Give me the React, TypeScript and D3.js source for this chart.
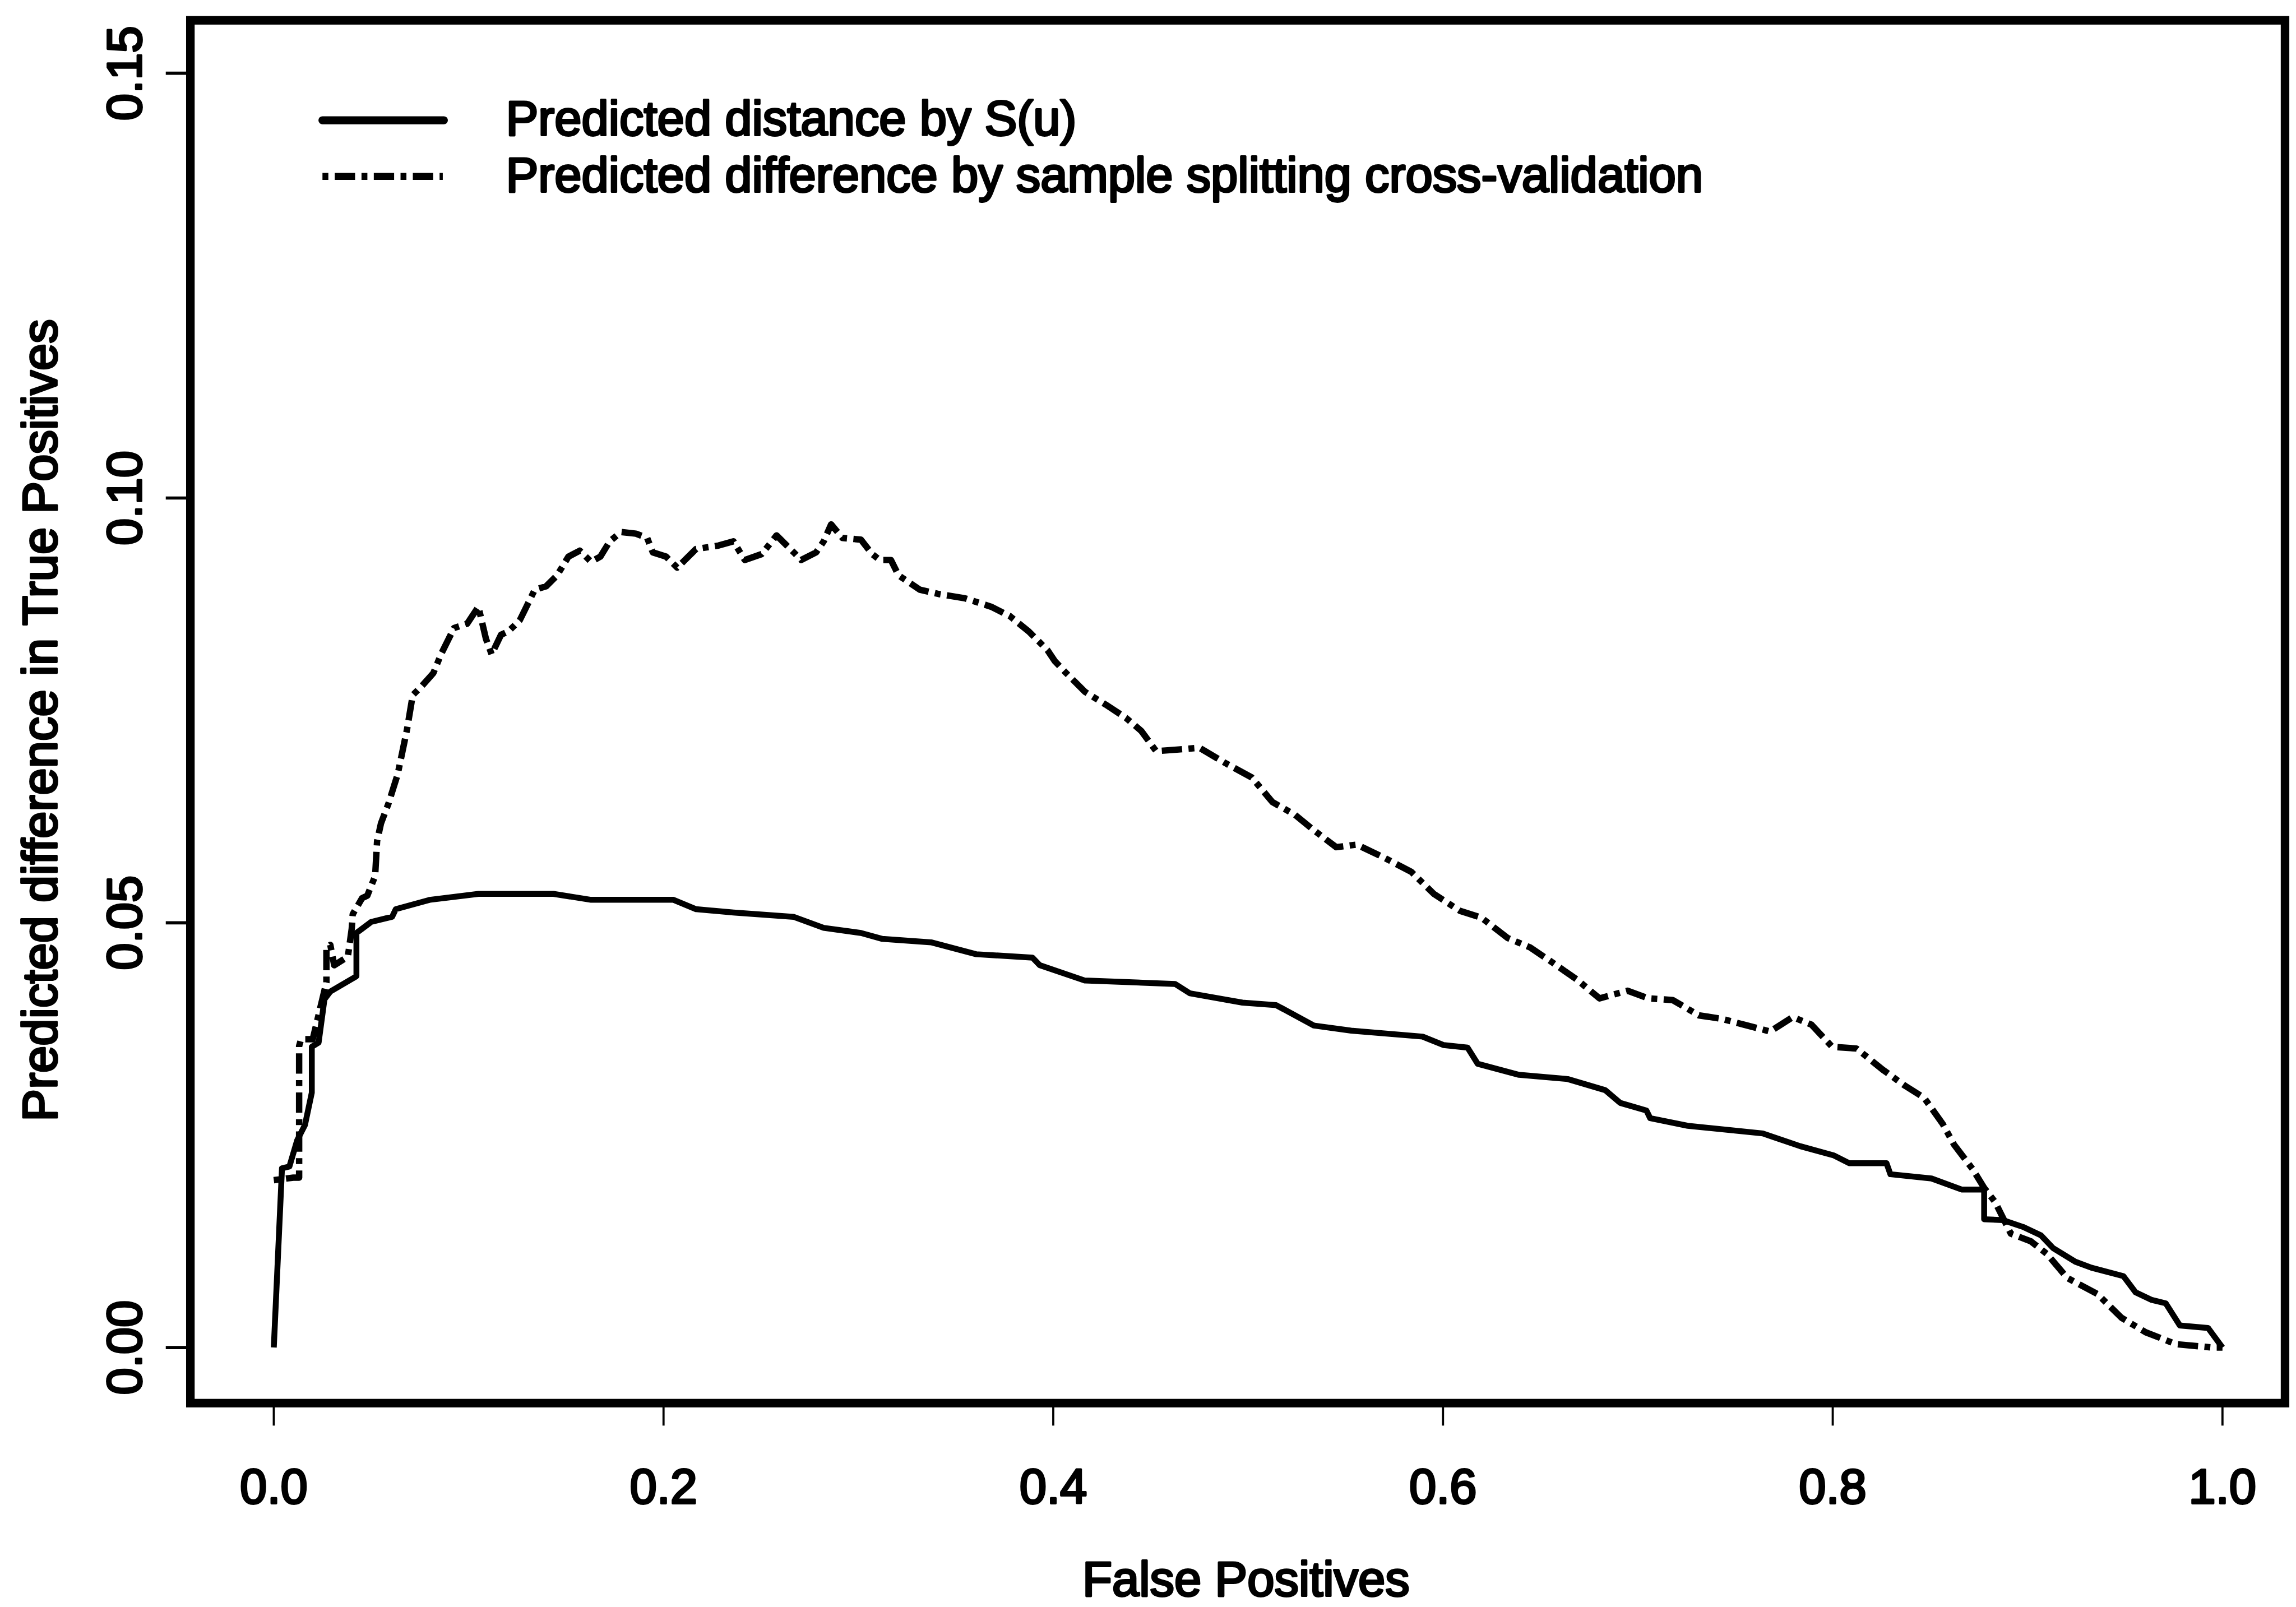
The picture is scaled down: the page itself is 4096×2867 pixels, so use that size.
import React from "react";
import * as d3 from "d3";

// ---- data ----
const xTicks = [0.0, 0.2, 0.4, 0.6, 0.8, 1.0];
const xTickLabels = ["0.0", "0.2", "0.4", "0.6", "0.8", "1.0"];
const yTicks = [0.0, 0.05, 0.1, 0.15];
const yTickLabels = ["0.00", "0.05", "0.10", "0.15"];

const seriesNames = [
  "Predicted distance by S(u)",
  "Predicted difference by sample splitting cross-validation",
];

const fpSolid = [
  0, 0.0042, 0.008, 0.012, 0.016, 0.0195, 0.0195, 0.023, 0.026, 0.029, 0.0424, 0.0424,
  0.05, 0.0607, 0.0626, 0.08, 0.105, 0.1435, 0.1628, 0.2051, 0.2167, 0.2359, 0.2667,
  0.2822, 0.3013, 0.3123, 0.3373, 0.3604, 0.3893, 0.3931, 0.4162, 0.4625, 0.4701,
  0.4971, 0.5144, 0.5337, 0.5529, 0.5895, 0.6004, 0.6126, 0.6178, 0.639, 0.664,
  0.6832, 0.6909, 0.7044, 0.7063, 0.7256, 0.7641, 0.7833, 0.8007, 0.8084, 0.8276,
  0.8296, 0.8507, 0.8661, 0.8777, 0.8777, 0.8873, 0.8976, 0.9069, 0.9131, 0.9245,
  0.9327, 0.9492, 0.9554, 0.9637, 0.9709, 0.9781, 0.9926, 1.0,
];
const tpSolid = [
  0, 0.0211, 0.0213, 0.0244, 0.0262, 0.03, 0.0354, 0.0359, 0.041, 0.0419, 0.0437, 0.0488,
  0.0501, 0.0507, 0.0516, 0.0527, 0.0534, 0.0534, 0.0527, 0.0527, 0.0516, 0.0512, 0.0507,
  0.0494, 0.0488, 0.0481, 0.0477, 0.0463, 0.0459, 0.045, 0.0432, 0.0428, 0.0417,
  0.0406, 0.0403, 0.0379, 0.0373, 0.0366, 0.0356, 0.0353, 0.0334, 0.0321, 0.0316,
  0.0303, 0.0288, 0.0279, 0.027, 0.0261, 0.0252, 0.0237, 0.0226, 0.0217, 0.0217,
  0.0204, 0.0199, 0.0186, 0.0186, 0.0151, 0.015, 0.0142, 0.0132, 0.0117, 0.0101,
  0.0094, 0.0084, 0.0065, 0.0056, 0.0052, 0.0026, 0.0023, 0.0,
];

const fpDash = [
  0, 0.01, 0.013, 0.013, 0.014, 0.02, 0.027, 0.027, 0.029, 0.031, 0.038, 0.04, 0.0405,
  0.0453, 0.048, 0.052, 0.053, 0.055, 0.0588, 0.0636, 0.0684, 0.0713, 0.0761, 0.0819,
  0.0858, 0.0925, 0.0992, 0.105, 0.1089, 0.1118, 0.1166, 0.1204, 0.1262, 0.129, 0.1339,
  0.1397, 0.1454, 0.1512, 0.157, 0.1628, 0.1676, 0.1724, 0.1782, 0.1859, 0.1916, 0.1945,
  0.2013, 0.207, 0.2167, 0.2282, 0.2359, 0.2417, 0.2504, 0.258, 0.2677, 0.2706, 0.2783,
  0.2822, 0.286, 0.2918, 0.3013, 0.3071, 0.311, 0.3167, 0.3206, 0.3316, 0.3412, 0.3546,
  0.3681, 0.3777, 0.3874, 0.397, 0.4008, 0.4066, 0.4162, 0.4268, 0.4374, 0.4451, 0.4528,
  0.4644, 0.475, 0.4875, 0.5019, 0.5125, 0.5241, 0.5337, 0.5452, 0.5558, 0.5703, 0.5837,
  0.5953, 0.6087, 0.6197, 0.6332, 0.6447, 0.6563, 0.6688, 0.6803, 0.6948, 0.7054, 0.7179,
  0.7313, 0.7429, 0.7545, 0.7679, 0.7795, 0.7891, 0.7997, 0.8122, 0.8257, 0.8372, 0.8469,
  0.8565, 0.8622, 0.8718, 0.8777, 0.8834, 0.8914, 0.9017, 0.91, 0.9203, 0.9358, 0.9482,
  0.9606, 0.9761, 0.9947, 1.0,
];
const tpDash = [
  0.0197, 0.02, 0.02, 0.0355, 0.0363, 0.0363, 0.043, 0.047, 0.0474, 0.045, 0.046, 0.0493,
  0.051, 0.0529, 0.0532, 0.0555, 0.0596, 0.0617, 0.064, 0.0675, 0.0728, 0.0768, 0.0779,
  0.0794, 0.0816, 0.0847, 0.0852, 0.0872, 0.0834, 0.0816, 0.0839, 0.0843, 0.0856, 0.0869,
  0.0892, 0.0896, 0.0909, 0.0931, 0.0938, 0.0925, 0.0931, 0.0949, 0.096, 0.0958, 0.0953,
  0.0936, 0.0931, 0.0918, 0.094, 0.0944, 0.0949, 0.0927, 0.0934, 0.0956, 0.0934, 0.0927,
  0.0936, 0.0949, 0.0969, 0.0953, 0.0951, 0.0934, 0.0927, 0.0927, 0.0909, 0.0892, 0.0887,
  0.0882, 0.0872, 0.0861, 0.0843, 0.0821, 0.0808, 0.0794, 0.0772, 0.0757, 0.0741, 0.0726,
  0.0702, 0.0704, 0.0706, 0.0689, 0.0671, 0.0642, 0.0627, 0.0609, 0.0589, 0.0592, 0.0576,
  0.056, 0.0534, 0.0514, 0.0506, 0.0482, 0.0471, 0.0453, 0.0433, 0.0411, 0.042, 0.0411,
  0.0409, 0.0391, 0.0387, 0.038, 0.0372, 0.0389, 0.038, 0.0354, 0.0352, 0.0327, 0.0308,
  0.0294, 0.0263, 0.0239, 0.021, 0.0188, 0.0171, 0.0134, 0.0125, 0.011, 0.0082, 0.0063,
  0.0035, 0.0018, 0.0004, 0.0, 0.0,
];

const S = 0.954; // overall scale relative to the reference
const FONT = "'Liberation Sans', Arial, Helvetica, sans-serif";

export default function App() {
  // layout in reference pixel units (scaled by S via the group transform)
  const frame = { left: 356, right: 4273, top: 38, bottom: 2624 };
  const x = d3.scaleLinear().domain([0, 1]).range([512, 4156]);
  const y = d3.scaleLinear().domain([0, 0.15]).range([2520, 137]);

  const line = d3
    .line<[number, number]>()
    .x((d) => x(d[0]))
    .y((d) => y(d[1]));

  const solidPts: [number, number][] = fpSolid.map((v, i) => [v, tpSolid[i]]);
  const dashPts: [number, number][] = fpDash.map((v, i) => [v, tpDash[i]]);

  const fontSize = 91;
  const dashArr = "11 12 38 12";
  const textProps = {
    fontFamily: FONT,
    fontSize,
    fill: "#000",
    stroke: "#000",
    strokeWidth: 4,
    strokeLinejoin: "round" as const,
  };

  return (
    <svg
      width={4096}
      height={2867}
      style={{ position: "absolute", left: 0, top: 0, background: "#fff" }}
    >
      <rect x={0} y={0} width={4096} height={2867} fill="#fff" />
      <g transform={`scale(${S})`}>
        {/* curves */}
        <path
          d={line(dashPts) || ""}
          fill="none"
          stroke="#000"
          strokeWidth={12}
          strokeDasharray={dashArr}
          strokeLinejoin="round"
        />
        <path
          d={line(solidPts) || ""}
          fill="none"
          stroke="#000"
          strokeWidth={11}
          strokeLinejoin="round"
        />

        {/* frame */}
        <rect
          x={frame.left}
          y={frame.top}
          width={frame.right - frame.left}
          height={frame.bottom - frame.top}
          fill="none"
          stroke="#000"
          strokeWidth={16}
        />

        {/* x axis ticks + labels */}
        {xTicks.map((t, i) => (
          <g key={"xt" + i}>
            <line
              x1={x(t)}
              x2={x(t)}
              y1={frame.bottom}
              y2={frame.bottom + 42}
              stroke="#000"
              strokeWidth={4}
            />
            <text x={x(t)} y={2811} textAnchor="middle" {...textProps}>
              {xTickLabels[i]}
            </text>
          </g>
        ))}

        {/* y axis ticks + labels */}
        {yTicks.map((t, i) => (
          <g key={"yt" + i}>
            <line
              x1={frame.left - 46}
              x2={frame.left}
              y1={y(t)}
              y2={y(t)}
              stroke="#000"
              strokeWidth={6}
            />
            <text
              transform={`translate(${264},${y(t)}) rotate(-90)`}
              textAnchor="middle"
              {...textProps}
            >
              {yTickLabels[i]}
            </text>
          </g>
        ))}

        {/* axis titles */}
        <text x={2330} y={2984} textAnchor="middle" {...textProps}>
          False Positives
        </text>
        <text
          transform={`translate(${106},${1347}) rotate(-90)`}
          textAnchor="middle"
          {...textProps}
        >
          Predicted difference in True Positives
        </text>

        {/* legend */}
        <line x1={603} x2={830} y1={225} y2={225} stroke="#000" strokeWidth={15} strokeLinecap="round" />
        <line
          x1={603}
          x2={828}
          y1={330}
          y2={330}
          stroke="#000"
          strokeWidth={13}
          strokeDasharray={dashArr}
        />
        <text x={946} y={253} {...textProps}>
          {seriesNames[0]}
        </text>
        <text x={946} y={358} {...textProps}>
          {seriesNames[1]}
        </text>
      </g>
    </svg>
  );
}
